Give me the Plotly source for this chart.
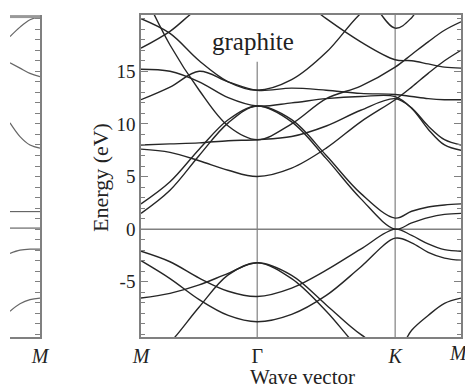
import plotly.graph_objects as go

# k-path positions (M, Gamma, K, M) in relative units
K_LABELS = ["<i>M</i>", "Γ", "<i>K</i>"]
K_POS = [0.0, 0.577, 1.262, 1.589]

# common sampling grid: M, 3 pts, Γ, 3 pts, K, 3 pts, M
K_GRID = [0.0, 0.144, 0.289, 0.433, 0.577,
          0.748, 0.920, 1.091, 1.262,
          1.344, 1.426, 1.507, 1.589]

# band energies (eV) on K_GRID
band_pi_v1 = [-2.1, -3.1, -4.65, -5.9, -6.4, -5.6, -3.9, -1.9, 0.0, -0.6, -1.4, -1.95, -2.1]
band_pi_v2 = [-3.0, -4.7, -6.7, -8.2, -8.8, -8.1, -6.3, -3.6, -0.86, -1.3, -2.2, -2.75, -2.95]
band_pi_c1 = [2.4, 4.5, 7.6, 10.4, 11.7, 10.4, 7.0, 3.4, 1.05, 1.7, 2.1, 2.3, 2.4]
band_pi_c2 = [1.5, 3.7, 7.0, 10.1, 11.7, 10.2, 6.7, 2.9, 0.0, 0.6, 1.1, 1.4, 1.5]
band_s1 = [-13.5, -10.8, -7.4, -4.35, -3.2, -4.7, -7.8, -11.5, -14.0, -14.5, -15.0, -15.0, -15.0]
band_s2 = [-6.55, -6.1, -5.3, -4.2, -3.2, -4.4, -7.2, -10.0, -11.8, -9.6, -8.2, -7.05, -6.55]
band_c5 = [7.6, 7.3, 6.5, 5.6, 5.0, 5.8, 7.7, 10.2, 12.3, 13.5, 14.8, 16.0, 17.0]
band_c8 = [8.0, 8.1, 8.2, 8.4, 8.5, 8.8, 9.8, 11.3, 12.4, 11.5, 9.8, 8.5, 8.0]
band_c8s = [23.0, 17.5, 13.2, 9.8, 8.5, 10.0, 12.4, 13.6, 15.4, 16.6, 17.8, 18.9, 19.7]
band_c13 = [20.0, 18.6, 16.0, 14.0, 13.2, 14.2, 16.8, 20.5, 23.0, 23.5, 24.0, 24.0, 24.0]
band_c12 = [12.3, 13.5, 15.0, 14.0, 13.2, 13.4, 13.2, 12.9, 12.8, 12.6, 12.4, 12.3, 12.3]
band_c15 = [15.2, 15.0, 14.0, 12.5, 11.7, 12.0, 12.4, 12.6, 12.6, 11.5, 9.5, 8.0, 7.5]
band_c16 = [25.0, 25.0, 24.5, 24.0, 24.0, 22.5, 20.0, 17.8, 16.1, 16.0, 15.7, 15.4, 15.3]
band_c17 = [17.2, 18.8, 21.0, 22.0, 22.0, 22.0, 22.0, 22.5, 19.1, 20.1, 22.5, 23.0, 23.0]

BANDS = [band_pi_v1, band_pi_v2, band_pi_c1, band_pi_c2, band_s1, band_s2,
         band_c5, band_c8, band_c8s, band_c13, band_c12, band_c15, band_c16, band_c17]

# neighbouring (cut-off) panel, local k ending at M = 0
L_K = [-0.12, -0.08, -0.04, 0.0]
left_b1 = [1.67, 1.67, 1.67, 1.67]
left_b2 = [0.1, 0.1, 0.1, 0.1]
left_b3 = [-2.3, -2.0, -1.9, -1.9]
left_b4 = [-7.8, -7.1, -6.7, -6.55]
left_b5 = [10.1, 8.8, 8.0, 7.7]
left_b6 = [15.8, 15.3, 14.8, 14.5]
left_b7 = [18.3, 19.2, 19.9, 20.2]
LEFT_BANDS = [left_b1, left_b2, left_b3, left_b4, left_b5, left_b6, left_b7]

Y_RANGE = [-10.25, 20.35]
Y_TICKS = [-5, 0, 5, 10, 15]
Y_TICKTEXT = ["-5", "0", "5", "10", "15"]
GAMMA_LINE_TOP = 15.9   # the Γ line stops below the "graphite" label

FONT = "Liberation Serif"
LINE = "#262626"
GRID = "#808080"

fig = go.Figure()
for b in BANDS:
    fig.add_trace(go.Scatter(x=K_GRID, y=b, mode="lines",
                             line=dict(color=LINE, width=1.4, shape="spline", smoothing=1.0),
                             hoverinfo="skip", showlegend=False))
for b in LEFT_BANDS:
    fig.add_trace(go.Scatter(x=L_K, y=b, mode="lines", xaxis="x2", yaxis="y2",
                             line=dict(color="#666", width=1.2, shape="spline"),
                             hoverinfo="skip", showlegend=False))

# symmetry lines
fig.add_shape(type="line", x0=K_POS[1], x1=K_POS[1], y0=Y_RANGE[0], y1=GAMMA_LINE_TOP, xref="x", yref="y",
              line=dict(color=GRID, width=1.2), layer="below")
fig.add_shape(type="line", x0=K_POS[2], x1=K_POS[2], y0=Y_RANGE[0], y1=Y_RANGE[1], xref="x", yref="y",
              line=dict(color=GRID, width=1.2), layer="below")
fig.add_shape(type="line", x0=K_POS[0], x1=K_POS[-1], y0=0, y1=0, xref="x", yref="y",
              line=dict(color=GRID, width=1.5), layer="below")

fig.add_annotation(x=K_POS[1], y=17.85, xref="x", yref="y", text="graphite", showarrow=False,
                   xshift=-4, font=dict(family=FONT, size=25, color="#222"))

W, H = 465, 390
ml, mr, mt, mb = 10, 4, 15, 53
pw = W - ml - mr
ph = H - mt - mb
main_left = (141 - ml) / pw
fig.update_layout(
    width=W, height=H, margin=dict(l=ml, r=mr, t=mt, b=mb, autoexpand=False),
    plot_bgcolor="white", paper_bgcolor="white",
    font=dict(family=FONT, size=19, color="#222"),
    xaxis=dict(domain=[main_left, 1], range=[K_POS[0], K_POS[-1]], tickvals=K_POS[:3], ticktext=K_LABELS,
               showline=True, linecolor=GRID, linewidth=1.5, mirror=True, ticks="", showgrid=False,
               zeroline=False, tickfont=dict(size=20), automargin=False),
    yaxis=dict(range=Y_RANGE, tickvals=Y_TICKS, ticktext=Y_TICKTEXT, showline=True, linecolor=GRID,
               linewidth=1.5, mirror="ticks", ticks="inside", ticklen=7, tickcolor=GRID, showgrid=False,
               zeroline=False, automargin=False,
               minor=dict(dtick=1, ticks="inside", ticklen=4, tickcolor=GRID)),
    xaxis2=dict(domain=[0, 30 / pw], range=[-0.12, 0], tickvals=[0], ticktext=["<i>M</i>"], anchor="y2",
                showline=True, linecolor=GRID, linewidth=1.5, ticks="", showgrid=False, zeroline=False,
                tickfont=dict(size=20), automargin=False),
    yaxis2=dict(range=Y_RANGE, anchor="x2", side="right", showticklabels=False, showline=True,
                linecolor=GRID, linewidth=1.5, ticks="inside", ticklen=5, tickcolor=GRID, dtick=1,
                showgrid=False, zeroline=False, automargin=False),
)
fig.add_shape(type="line", xref="x2", yref="y2", x0=-0.12, x1=0, y0=20.2, y1=20.2,
              line=dict(color="#999", width=3))

# last M label sits at the right edge (partly cut, as in the reference)
fig.add_annotation(xref="x", yref="paper", x=K_POS[3], y=-(353 - (H - mb)) / ph, text=K_LABELS[0],
                   showarrow=False, font=dict(family=FONT, size=20), xanchor="center", yanchor="middle",
                   xshift=-3)
fig.add_annotation(xref="paper", yref="paper", x=(302 - ml) / pw, y=-(377 - (H - mb)) / ph,
                   text="Wave vector", showarrow=False, font=dict(family=FONT, size=21),
                   xanchor="center", yanchor="middle")
fig.add_annotation(xref="paper", yref="paper", x=(100 - ml) / pw, y=(H - mb - 178) / ph,
                   text="Energy (eV)", textangle=-90, showarrow=False, font=dict(family=FONT, size=22),
                   xanchor="center", yanchor="middle")

fig.write_html("out.html", config={"displayModeBar": False},
               post_script="document.body.style.margin='0';document.body.style.overflow='hidden';")
